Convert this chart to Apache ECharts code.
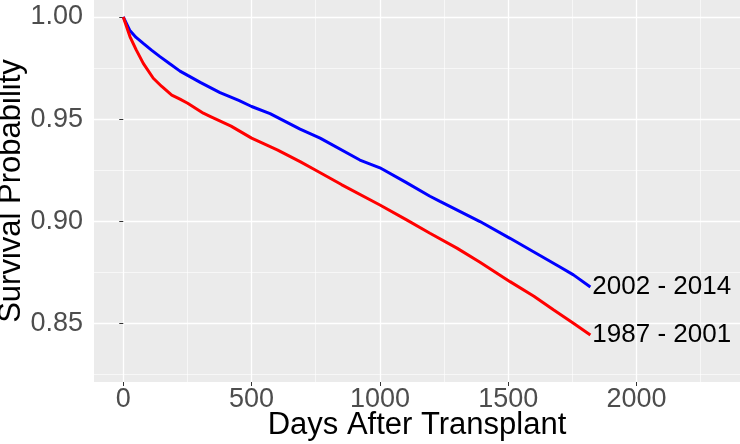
<!DOCTYPE html>
<html>
<head>
<meta charset="utf-8">
<script src="https://cdn.jsdelivr.net/npm/echarts@6/dist/echarts.min.js"></script>
<style>html,body{margin:0;padding:0;background:#fff}#c{width:740px;height:444px}</style>
</head>
<body>
<div id="c"></div>
<script>
// Data
var seriesNames = ['2002 - 2014', '1987 - 2001'];
var blueDays = [0, 25, 50, 78, 110, 143, 180, 221, 251, 300, 377, 450, 500, 572, 689, 767, 922, 1000, 1100, 1195, 1234, 1390, 1507, 1600, 1700, 1754, 1820];
var blueSurv = [1.000, 0.9935, 0.9900, 0.9871, 0.9838, 0.9806, 0.9772, 0.9735, 0.9714, 0.9680, 0.9630, 0.9592, 0.9562, 0.9527, 0.9451, 0.9407, 0.9300, 0.9262, 0.9192, 0.9123, 0.9098, 0.8999, 0.8917, 0.8850, 0.8778, 0.8738, 0.8679];
var redDays = [0, 26, 50, 78, 117, 150, 189, 221, 251, 312, 338, 420, 500, 600, 689, 750, 850, 1000, 1104, 1195, 1300, 1390, 1507, 1600, 1676, 1754, 1820];
var redSurv = [1.000, 0.9904, 0.9840, 0.9773, 0.9700, 0.9660, 0.9618, 0.9598, 0.9578, 0.9529, 0.9514, 0.9466, 0.9407, 0.9350, 0.9292, 0.9250, 0.9180, 0.9080, 0.9007, 0.8942, 0.8869, 0.8800, 0.8705, 0.8634, 0.8567, 0.8501, 0.8444];
var xTicks = [0, 500, 1000, 1500, 2000];
var xMinorTicks = [250, 750, 1250, 1750, 2250];
var yTicks = [0.85, 0.90, 0.95, 1.00];
var yMinorTicks = [0.825, 0.875, 0.925, 0.975];

function pairs(xs, ys) { return xs.map(function (x, i) { return [x, ys[i]]; }); }

var FONT = "'Liberation Sans', Arial, sans-serif";
var XMIN = -114, XMAX = 2403, YMIN = 0.8214, YMAX = 1.0083;

var chart = echarts.init(document.getElementById('c'), null, {renderer: 'canvas'});
chart.setOption({
  animation: false,
  backgroundColor: '#ffffff',
  grid: {left: 94, right: 0, top: 0, bottom: 62, show: true, backgroundColor: '#EBEBEB', borderWidth: 0,
    containLabel: false, outerBoundsMode: 'none'},
  xAxis: [{
    type: 'value', min: XMIN, max: XMAX,
    name: 'Days After Transplant', nameLocation: 'middle', nameGap: 28, nameMoveOverlap: false,
    nameTextStyle: {fontFamily: FONT, fontSize: 31, color: '#000'},
    axisLine: {show: false},
    axisTick: {show: true, length: 4, lineStyle: {color: '#333', width: 1}, customValues: xTicks},
    axisLabel: {fontFamily: FONT, fontSize: 27, color: '#4D4D4D', margin: 4, customValues: xTicks,
      formatter: function (v) { return String(v); }},
    splitLine: {show: true, lineStyle: {color: '#fff', width: 1.3}}
  }, {
    type: 'value', min: XMIN, max: XMAX, position: 'top',
    axisLine: {show: false},
    axisTick: {show: false, customValues: xMinorTicks},
    axisLabel: {show: false, customValues: xMinorTicks},
    splitLine: {show: true, lineStyle: {color: '#fff', width: 0.6}}
  }],
  yAxis: [{
    type: 'value', min: YMIN, max: YMAX,
    name: 'Survival Probability', nameLocation: 'middle', nameGap: 67, nameMoveOverlap: false,
    nameTextStyle: {fontFamily: FONT, fontSize: 31, color: '#000'},
    axisLine: {show: false},
    axisTick: {show: true, length: 4, lineStyle: {color: '#333', width: 1}, customValues: yTicks},
    axisLabel: {fontFamily: FONT, fontSize: 27, color: '#4D4D4D', margin: 11, customValues: yTicks,
      formatter: function (v) { return v.toFixed(2); }},
    splitLine: {show: true, lineStyle: {color: '#fff', width: 1.3}}
  }, {
    type: 'value', min: YMIN, max: YMAX, position: 'right',
    axisLine: {show: false},
    axisTick: {show: false, customValues: yMinorTicks},
    axisLabel: {show: false, customValues: yMinorTicks},
    splitLine: {show: true, lineStyle: {color: '#fff', width: 0.6}}
  }],
  series: [{
    name: seriesNames[0], type: 'line', data: pairs(blueDays, blueSurv),
    showSymbol: false, smooth: false,
    lineStyle: {color: '#0000FF', width: 3},
    endLabel: {show: true, formatter: '{a}', distance: 2, fontFamily: FONT, fontSize: 26, color: '#000'}
  }, {
    name: seriesNames[1], type: 'line', data: pairs(redDays, redSurv),
    showSymbol: false, smooth: false,
    lineStyle: {color: '#FF0000', width: 3},
    endLabel: {show: true, formatter: '{a}', distance: 2, fontFamily: FONT, fontSize: 26, color: '#000'}
  }]
});
</script>
</body>
</html>
